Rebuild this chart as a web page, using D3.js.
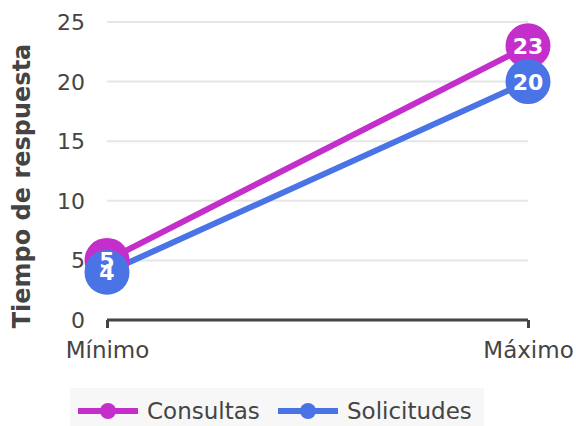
<!DOCTYPE html>
<html><head><meta charset="utf-8">
<script src="https://cdn.jsdelivr.net/npm/d3@7"></script>
<style>body{margin:0;background:#fff;}svg{display:block;font-family:"DejaVu Sans",sans-serif;}</style>
</head><body>
<svg id="c" width="576" height="426"></svg>
<script>
const categories = ["Mínimo", "Máximo"];
const seriesNames = ["Consultas", "Solicitudes"];
const consultas = [5, 23];
const solicitudes = [4, 20];
const yTicks = [0, 5, 10, 15, 20, 25];
const colors = ["#c42fcc", "#4a74e6"];
const yTitle = "Tiempo de respuesta";

const svg = d3.select("#c");
const x = d3.scalePoint().domain(categories).range([107, 528]);
const y = d3.scaleLinear().domain([0, 25]).range([320, 22]);
const txt = "#444";

// gridlines
svg.append("g").selectAll("line").data(yTicks.filter(d => d > 0)).join("line")
  .attr("x1", 107).attr("x2", 528).attr("y1", d => y(d)).attr("y2", d => y(d))
  .attr("stroke", "#e6e6e6").attr("stroke-width", 2);

// y labels
svg.append("g").selectAll("text").data(yTicks).join("text")
  .attr("x", 85).attr("y", d => y(d)).attr("dy", "0.36em").attr("text-anchor", "end")
  .attr("font-size", 22).attr("fill", txt).text(d => d);

// x axis
const xAxis = svg.append("g").attr("transform", "translate(0,320)")
  .call(d3.axisBottom(x).tickSize(8).tickPadding(14));
xAxis.select(".domain").attr("stroke", txt).attr("stroke-width", 3)
  .attr("d", "M107,0H528");
xAxis.selectAll(".tick line").attr("stroke", txt).attr("stroke-width", 3);
xAxis.selectAll(".tick text").attr("font-size", 23).attr("fill", txt)
  .attr("font-family", "DejaVu Sans");

// y title
svg.append("text").attr("transform", "translate(30,186) rotate(-90)")
  .attr("text-anchor", "middle").attr("font-size", 24).attr("font-weight", "bold")
  .attr("fill", txt).text(yTitle);

const series = [consultas, solicitudes];
const line = d3.line().x((d, i) => x(categories[i])).y(d => y(d));
series.forEach((s, k) => {
  svg.append("path").attr("d", line(s)).attr("fill", "none")
    .attr("stroke", colors[k]).attr("stroke-width", 6);
});
series.forEach((s, k) => {
  s.forEach((v, i) => {
    svg.append("circle").attr("cx", x(categories[i])).attr("cy", y(v)).attr("r", 22.5)
      .attr("fill", colors[k]);
  });
});
series.forEach((s, k) => {
  s.forEach((v, i) => {
    svg.append("text").attr("x", x(categories[i])).attr("y", y(v)).attr("dy", "0.36em")
      .attr("text-anchor", "middle").attr("font-size", 22).attr("font-weight", "bold")
      .attr("fill", "#fff").text(v);
  });
});

// legend
const lg = svg.append("g");
lg.append("rect").attr("x", 70).attr("y", 388).attr("width", 414).attr("height", 38).attr("fill", "#f7f7f7");
const lx = [78, 278];
seriesNames.forEach((n, k) => {
  lg.append("line").attr("x1", lx[k]).attr("x2", lx[k] + 60).attr("y1", 411).attr("y2", 411)
    .attr("stroke", colors[k]).attr("stroke-width", 6);
  lg.append("circle").attr("cx", lx[k] + 30).attr("cy", 411).attr("r", 8).attr("fill", colors[k]);
  lg.append("text").attr("x", lx[k] + 69).attr("y", 411).attr("dy", "0.36em")
    .attr("font-size", 23).attr("fill", txt).text(n);
});
</script>
</body></html>
